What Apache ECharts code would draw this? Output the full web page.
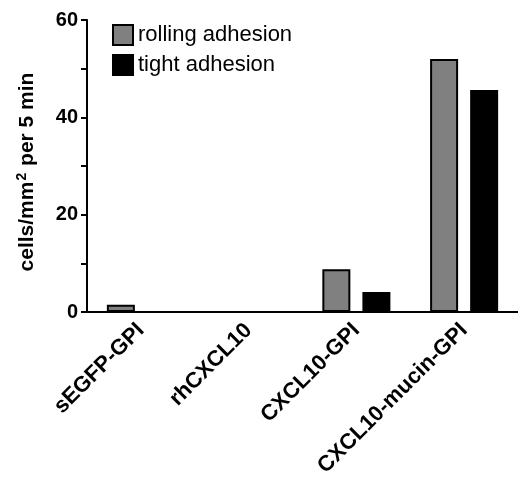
<!DOCTYPE html>
<html>
<head>
<meta charset="utf-8">
<script src="https://cdn.jsdelivr.net/npm/echarts@6/dist/echarts.min.js"></script>
<style>
  html, body { margin: 0; padding: 0; background: #fff; }
  #chart { width: 518px; height: 482px; }
</style>
</head>
<body>
<div id="chart"></div>
<script>
const categories = ["sEGFP-GPI", "rhCXCL10", "CXCL10-GPI", "CXCL10-mucin-GPI"];
const rolling = [1.5, 0, 8.8, 52];
const tight = [0, 0, 4.1, 45.6];
const yTicks = { min: 0, max: 60, interval: 20 };

const font = "Liberation Sans, Arial, sans-serif";
const chart = echarts.init(document.getElementById("chart"));

chart.setOption({
  animation: false,
  textStyle: { fontFamily: font },
  grid: { left: 87, top: 20, width: 438, bottom: 170, containLabel: false },
  legend: {
    orient: "vertical",
    left: 107,
    top: 19,
    itemWidth: 20,
    itemHeight: 20,
    itemGap: 8,
    icon: "rect",
    textStyle: { fontFamily: font, fontSize: 22, color: "#000" },
    data: ["rolling adhesion", "tight adhesion"],
  },
  xAxis: {
    type: "category",
    data: categories,
    axisLine: { lineStyle: { color: "#000", width: 2 } },
    axisTick: { alignWithLabel: true, length: 6, lineStyle: { width: 2, color: "#000" } },
    axisLabel: {
      rotate: 45,
      margin: 15,
      interval: 0,
      color: "#000",
      fontWeight: "bold",
      fontSize: 22,
      fontFamily: font,
    },
  },
  yAxis: {
    type: "value",
    min: yTicks.min,
    max: yTicks.max,
    interval: yTicks.interval,
    name: "cells/mm{sup|2} per 5 min",
    nameLocation: "middle",
    nameGap: 48,
    nameTextStyle: {
      color: "#000",
      fontWeight: "bold",
      fontSize: 21,
      fontFamily: font,
      padding: [0, 12, 0, 0],
      rich: {
        sup: { fontSize: 14, fontWeight: "bold", color: "#000", fontFamily: font, verticalAlign: "top", padding: [0, 1, 10, 1] },
      },
    },
    axisLine: { show: true, lineStyle: { color: "#000", width: 2 } },
    axisTick: { show: true, length: 6, lineStyle: { width: 2, color: "#000" } },
    minorTick: { show: true, splitNumber: 2, length: 6, lineStyle: { width: 2, color: "#000" } },
    splitLine: { show: false },
    axisLabel: { color: "#000", fontWeight: "bold", fontSize: 20, margin: 9, fontFamily: font },
  },
  series: [
    {
      name: "rolling adhesion",
      type: "bar",
      data: rolling,
      barWidth: 28,
      barGap: "43%",
      itemStyle: { color: "#808080", borderColor: "#000", borderWidth: 2 },
    },
    {
      name: "tight adhesion",
      type: "bar",
      data: tight,
      barWidth: 28,
      itemStyle: { color: "#000", borderColor: "#000", borderWidth: 2 },
    },
  ],
});
</script>
</body>
</html>
